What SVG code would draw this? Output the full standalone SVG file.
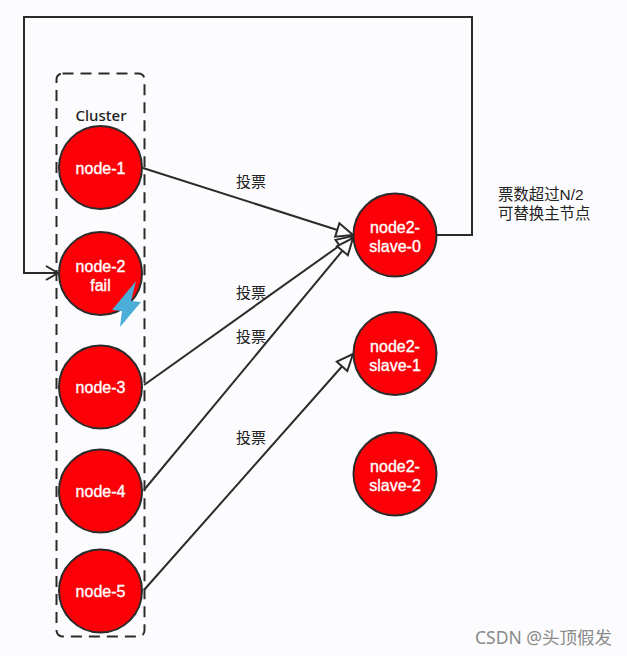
<svg xmlns="http://www.w3.org/2000/svg" width="627" height="656" viewBox="0 0 627 656">
<defs>
<style>
.n{fill:#fb0007;stroke:#2b2b2b;stroke-width:2}
.t{font-family:"Liberation Sans",sans-serif;font-size:16px;fill:#fff;text-anchor:middle;stroke:#fff;stroke-width:.35}
.l{font-family:"Liberation Sans","Noto Sans CJK SC",sans-serif;font-size:15px;fill:#222}
.c{fill:none;stroke:#2b2b2b;stroke-width:2}
</style>
<marker id="a" markerUnits="userSpaceOnUse" markerWidth="20" markerHeight="18" refX="18" refY="9" orient="auto"><path d="M1.500 2L18 9L1.500 16Z" fill="#fcfcfe" stroke="#2b2b2b" stroke-width="2"/></marker>
<marker id="o" markerUnits="userSpaceOnUse" markerWidth="16" markerHeight="18" refX="14" refY="9" orient="auto"><path d="M2 2L14 9L2 16" fill="none" stroke="#2b2b2b" stroke-width="2"/></marker>
</defs>
<rect width="627" height="656" fill="#fcfcfe"/>
<rect x="56.500" y="73.500" width="88" height="563" rx="6" fill="none" stroke="#2b2b2b" stroke-width="2" stroke-dasharray="11 7"/>
<text x="101" y="121" font-family="'Noto Sans',sans-serif" font-size="15px" font-weight="500" fill="#222" text-anchor="middle">Cluster</text>
<g id="connectors">
<path class="c" d="M436 235H472V17H24V273H58" marker-end="url(#o)"/>
<path class="c" d="M143 168L353 235" marker-end="url(#a)"/>
<path class="c" d="M144 385L353 236" marker-end="url(#a)"/>
<path class="c" d="M144 490L353 238" marker-end="url(#a)"/>
<path class="c" d="M144 590L353 354" marker-end="url(#a)"/>
</g>
<g id="node-1"><circle class="n" cx="100.500" cy="167.500" r="41.500"/><text class="t" x="100.500" y="174">node-1</text></g>
<g id="node-2"><circle class="n" cx="100.500" cy="273.500" r="41.500"/><text class="t"><tspan x="100.500" y="272">node-2</tspan><tspan x="100.500" y="291">fail</tspan></text><path d="M136 281L112 310L122 311L120 327L141 302L131 301Z" fill="#4aaed8"/></g>
<g id="node-3"><circle class="n" cx="100.500" cy="387" r="41.500"/><text class="t" x="100.500" y="393">node-3</text></g>
<g id="node-4"><circle class="n" cx="100.500" cy="491" r="41.500"/><text class="t" x="100.500" y="497">node-4</text></g>
<g id="node-5"><circle class="n" cx="100.500" cy="591" r="41.500"/><text class="t" x="100.500" y="597">node-5</text></g>
<g id="node2-slave-0"><circle class="n" cx="395" cy="235" r="41.500"/><text class="t"><tspan x="395" y="233">node2-</tspan><tspan x="395" y="252">slave-0</tspan></text></g>
<g id="node2-slave-1"><circle class="n" cx="395" cy="353.500" r="41.500"/><text class="t"><tspan x="395" y="351.500">node2-</tspan><tspan x="395" y="370.500">slave-1</tspan></text></g>
<g id="node2-slave-2"><circle class="n" cx="395" cy="474" r="41.500"/><text class="t"><tspan x="395" y="472">node2-</tspan><tspan x="395" y="491">slave-2</tspan></text></g>
<text class="l" x="236" y="187">投票</text>
<text class="l" x="236" y="298">投票</text>
<text class="l" x="236" y="342">投票</text>
<text class="l" x="236" y="443">投票</text>
<text class="l" style="font-size:15.400px"><tspan x="498" y="200">票数超过N/2</tspan><tspan x="498" y="219">可替换主节点</tspan></text>
<text x="475" y="644" font-family="'Noto Sans','Noto Sans CJK SC',sans-serif" font-size="17.500px" fill="#8a8a8a">CSDN @头顶假发</text>
</svg>
